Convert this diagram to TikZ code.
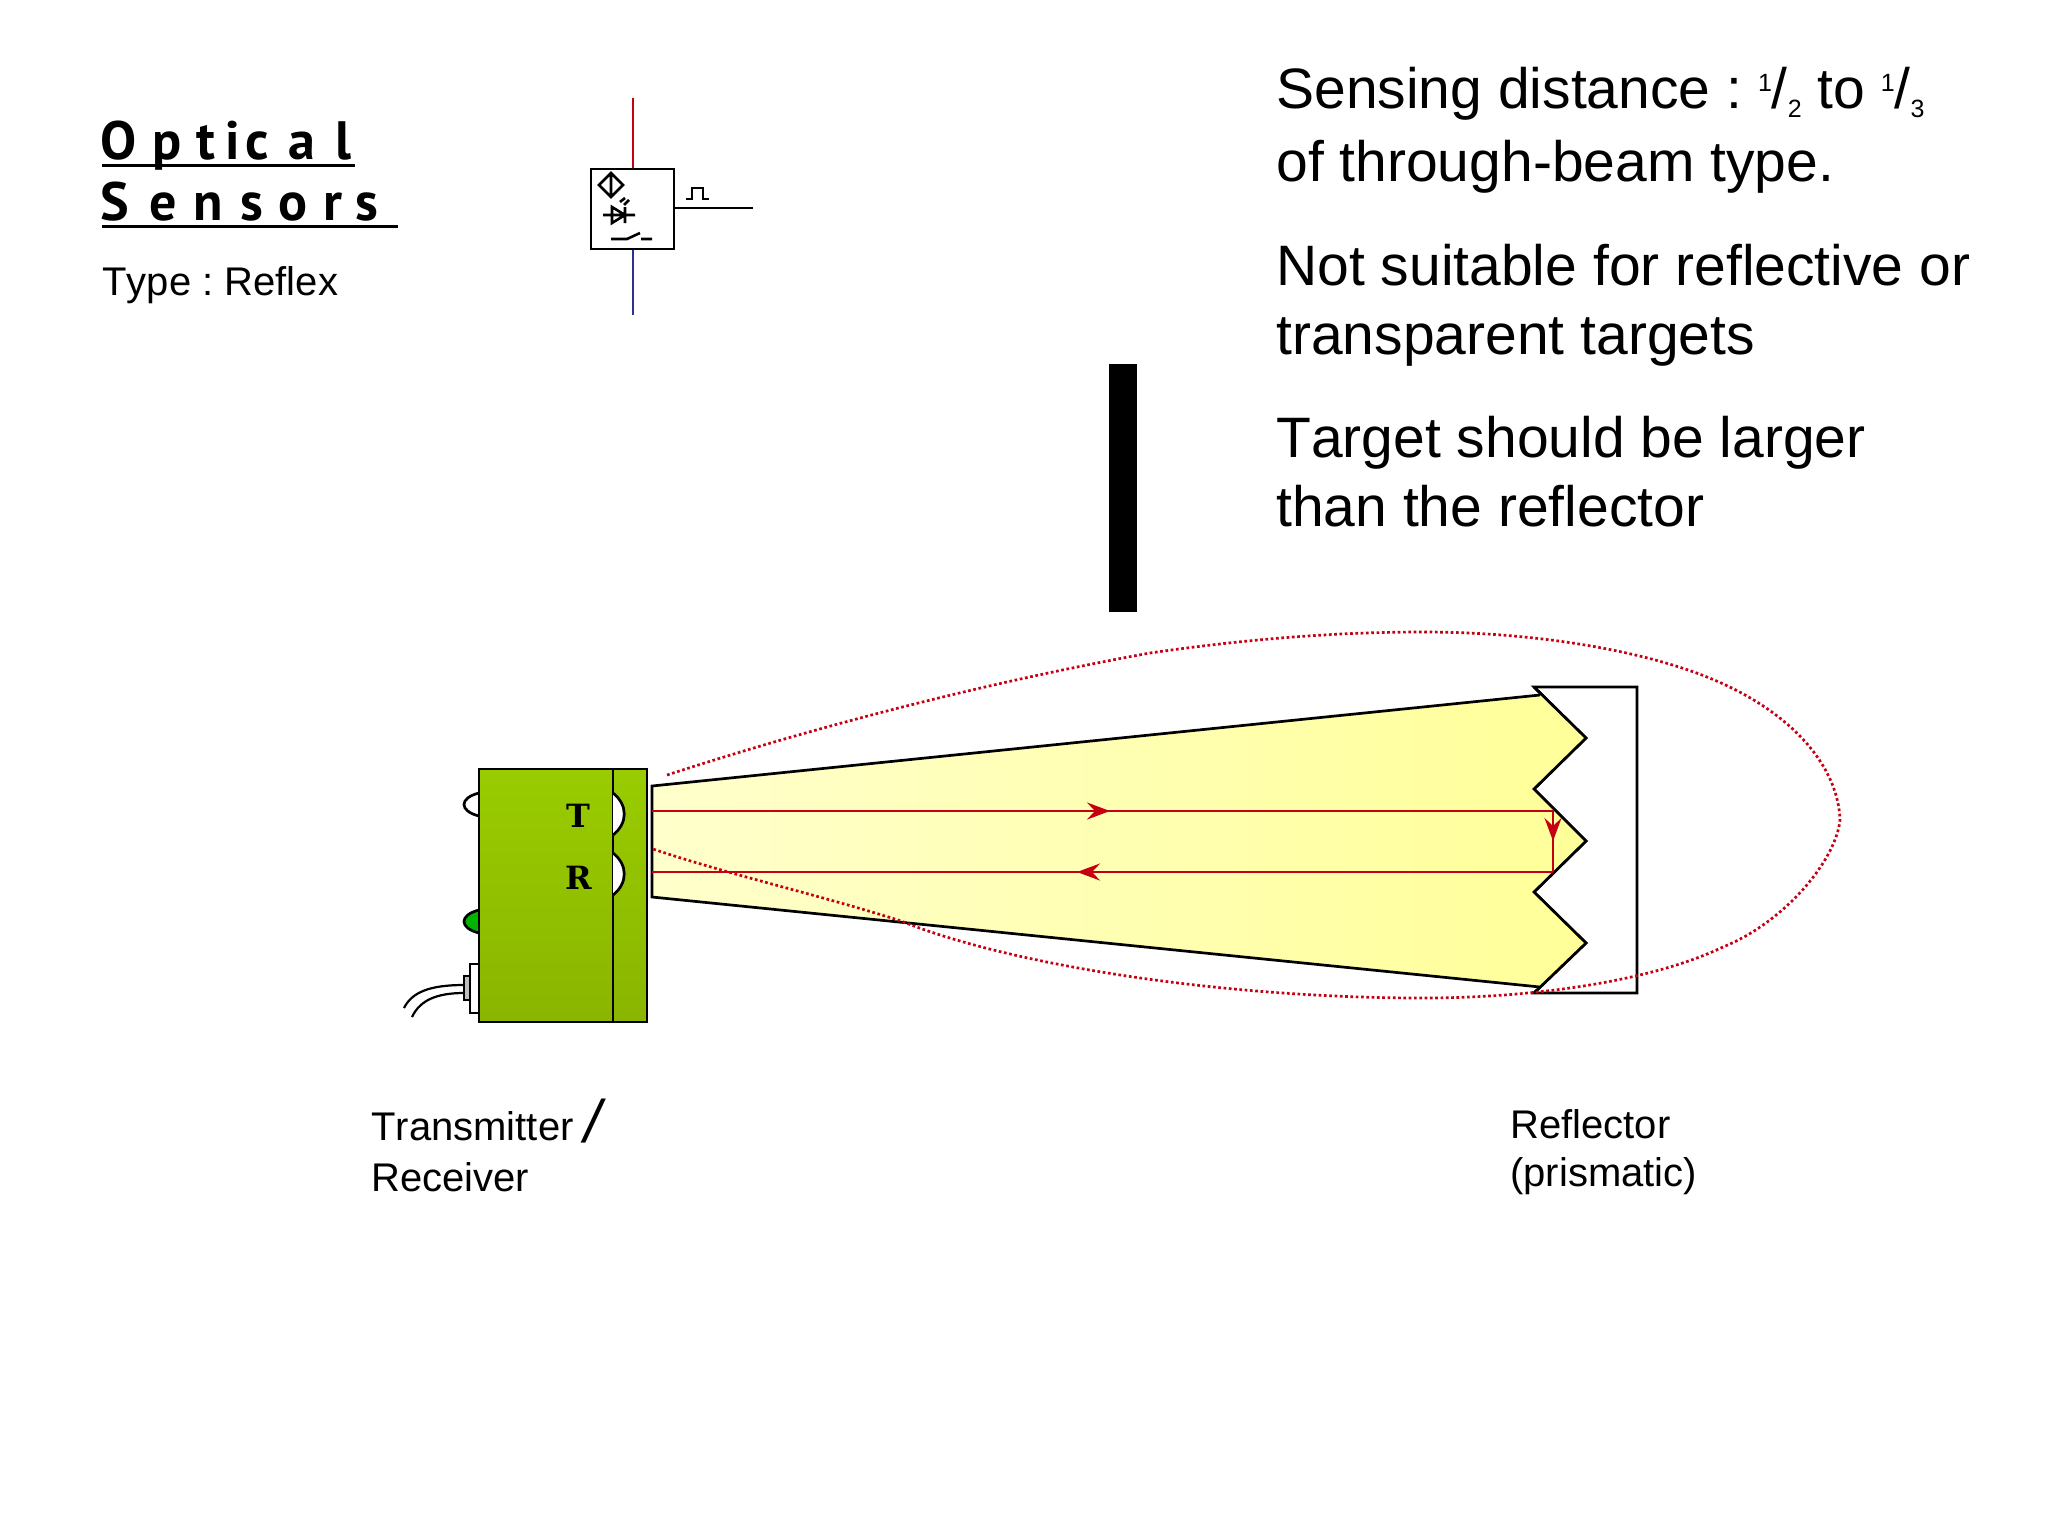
\documentclass[tikz,border=0pt]{standalone}
\usepackage{fontspec}
\setmainfont[Kerning=Off]{Liberation Sans}
\newfontfamily\titlefont{PT Sans Bold}
\newfontfamily\markfont{DejaVu Serif Bold}
\usetikzlibrary{arrows.meta}
\definecolor{redl}{HTML}{C40012}
\definecolor{bluel}{HTML}{2A3192}
\definecolor{beamA}{HTML}{FFFFCC}
\definecolor{beamB}{HTML}{FFFFA2}
\definecolor{beamC}{HTML}{FFFF99}
\definecolor{bodyA}{HTML}{99CC00}
\definecolor{bodyB}{HTML}{8AB500}
\definecolor{ledg}{HTML}{00B400}
\newcommand{\frc}[2]{\raisebox{8.5bp}{\fontsize{12.5bp}{15bp}\selectfont #1}/\raisebox{-4.5bp}{\fontsize{12.5bp}{15bp}\selectfont #2}}
\newcommand{\ltr}[2]{\makebox[#1bp][l]{#2}}
\tikzset{
  bigtxt/.style={anchor=base west,inner sep=0pt,font=\frenchspacing\fontsize{28.5bp}{34bp}\selectfont},
  smalltxt/.style={anchor=base west,inner sep=0pt,font=\frenchspacing\fontsize{20bp}{24bp}\selectfont},
  ttl/.style={anchor=base west,inner sep=0pt,font=\fontsize{27bp}{30bp}\titlefont},
  lettermark/.style={anchor=center,inner sep=0pt,font=\fontsize{16bp}{18bp}\markfont},
  ol/.style={draw=black,line width=1.35bp,line join=miter},
  sym/.style={draw=black,line width=1.3bp},
  redray/.style={draw=redl,line width=1.45bp},
  raytip/.style={-{Stealth[length=11.5bp,width=8.5bp,inset=4bp]}},
  dotline/.style={draw=redl,line width=1.35bp,dash pattern=on 1.35bp off 1.3bp},
}
\begin{document}
\begin{tikzpicture}[x=.5bp,y=-.5bp]
\useasboundingbox (0,0) rectangle (2048,1536);
\fill[white] (0,0) rectangle (2048,1536);
% title
\node[ttl] (t1) at (100,159) {\ltr{26}{O}\ltr{22}{p}\ltr{14.5}{t}\ltr{10}{i}\ltr{21.5}{c}\ltr{23.5}{a}l};
\node[ttl] (t2) at (100,220) {\ltr{24.5}{S}\ltr{22}{e}\ltr{23.5}{n}\ltr{19}{s}\ltr{22.5}{o}\ltr{16}{r}s};
\draw[line width=1.5bp] (102,165) -- (355,165);
\draw[line width=1.5bp] (102,226) -- (398,226);
\node[smalltxt] (type) at (102,295) {Type : Reflex};
% symbol
\draw[redl,line width=1.25bp] (633,98) -- (633,169);
\draw[bluel,line width=1.25bp] (633,249) -- (633,315);
\draw[sym] (591,169) rectangle (674,249);
\draw[sym] (674,208) -- (753,208);
\draw[sym] (686,199) -- (692,199) -- (692,188) -- (703,188) -- (703,199) -- (709,199);
\draw[sym] (611,173) -- (623,185) -- (611,197) -- (599,185) -- cycle (611,173) -- (611,197);
\draw[sym] (620,202) -- (625,198) (624,205) -- (629,200);
\draw[sym] (603,215) -- (635,215) (612,207) -- (612,223) -- (625,215) -- cycle (625,207) -- (625,223);
\draw[sym] (611,239) -- (627,239) -- (640,233) (641,239) -- (652,239);
% target
\fill[black] (1109,364) rectangle (1137,612);
% text
\node[bigtxt] (a1) at (1276,108) {Sensing distance : \frc{1}{2} to \frc{1}{3}};
\node[bigtxt] (a2) at (1276,181) {of through-beam type.};
\node[bigtxt] (b1) at (1276,285) {Not suitable for reflective or};
\node[bigtxt] (b2) at (1276,354) {transparent targets};
\node[bigtxt] (c1) at (1276,457) {Target should be larger};
\node[bigtxt] (c2) at (1276,526) {than the reflector};
\node[smalltxt] (l1) at (371,1140) {Transmitter \raisebox{-.05em}{\fontsize{30bp}{30bp}\selectfont\itshape /}};
\node[smalltxt] (l2) at (371,1191) {Receiver};
\node[smalltxt] (r1) at (1510,1138) {Reflector};
\node[smalltxt] (r2) at (1510,1186) {(prismatic)};
% reflector
\draw[ol,fill=white] (1534,687) -- (1637,687) -- (1637,993) -- (1534,993) -- (1586,943) -- (1534,892) -- (1586,841) -- (1534,789) -- (1586,738) -- cycle;
% beam
\path[left color=beamA,middle color=beamB,right color=beamC]
  (652,786) -- (1540,695) -- (1586,738) -- (1534,789) -- (1586,841) -- (1534,892) -- (1586,943) -- (1540,987) -- (652,897) -- cycle;
\draw[ol] (1540,695) -- (652,786) -- (652,897) -- (1540,987);
\draw[ol] (1534,687) -- (1586,738) -- (1534,789) -- (1586,841) -- (1534,892) -- (1586,943) -- (1534,993);
% rays
\draw[redray,raytip] (652,811) -- (1110,811);
\draw[redray] (1105,811) -- (1553,811) -- (1553,872);
\draw[redray,raytip] (1553,811) -- (1553,841);
\draw[redray,raytip] (1553,872) -- (1077,872);
\draw[redray] (1082,872) -- (652,872);
% dotted field
\draw[dotline] (667,775) .. controls (830,722) and (1000,680) .. (1150,653)
  .. controls (1240,640) and (1330,632) .. (1423,632)
  .. controls (1530,632) and (1637,649) .. (1707,677)
  .. controls (1790,710) and (1838,765) .. (1840,820)
  .. controls (1836,860) and (1785,922) .. (1723,947)
  .. controls (1650,982) and (1530,998) .. (1423,998)
  .. controls (1220,998) and (1010,965) .. (901,921)
  .. controls (820,895) and (730,875) .. (653,849);
% sensor
\draw[ol,fill=white] (479,793) .. controls (459,798) and (459,811) .. (479,816);
\draw[ol,fill=ledg] (479,910) .. controls (459,915) and (459,928) .. (479,933);
\draw[ol,fill=white] (470,964) rectangle (479,1013);
\draw[ol,fill=black!25] (464,976) rectangle (470,1000);
\draw[line width=1.1bp] (464,985) .. controls (430,985) and (412,992) .. (404,1008);
\draw[line width=1.1bp] (464,993) .. controls (437,993) and (420,1000) .. (412,1017);
\draw[ol,top color=bodyA,bottom color=bodyB] (479,769) rectangle (647,1022);
\draw[ol] (613,769) -- (613,1022);
\draw[ol,fill=white] (613,793) .. controls (628,805) and (628,823) .. (613,835);
\draw[ol,fill=white] (613,853) .. controls (628,865) and (628,883) .. (613,895);
\node[lettermark] (T) at (578,816) {T};
\node[lettermark] (R) at (579,878) {R};
\end{tikzpicture}
\end{document}
